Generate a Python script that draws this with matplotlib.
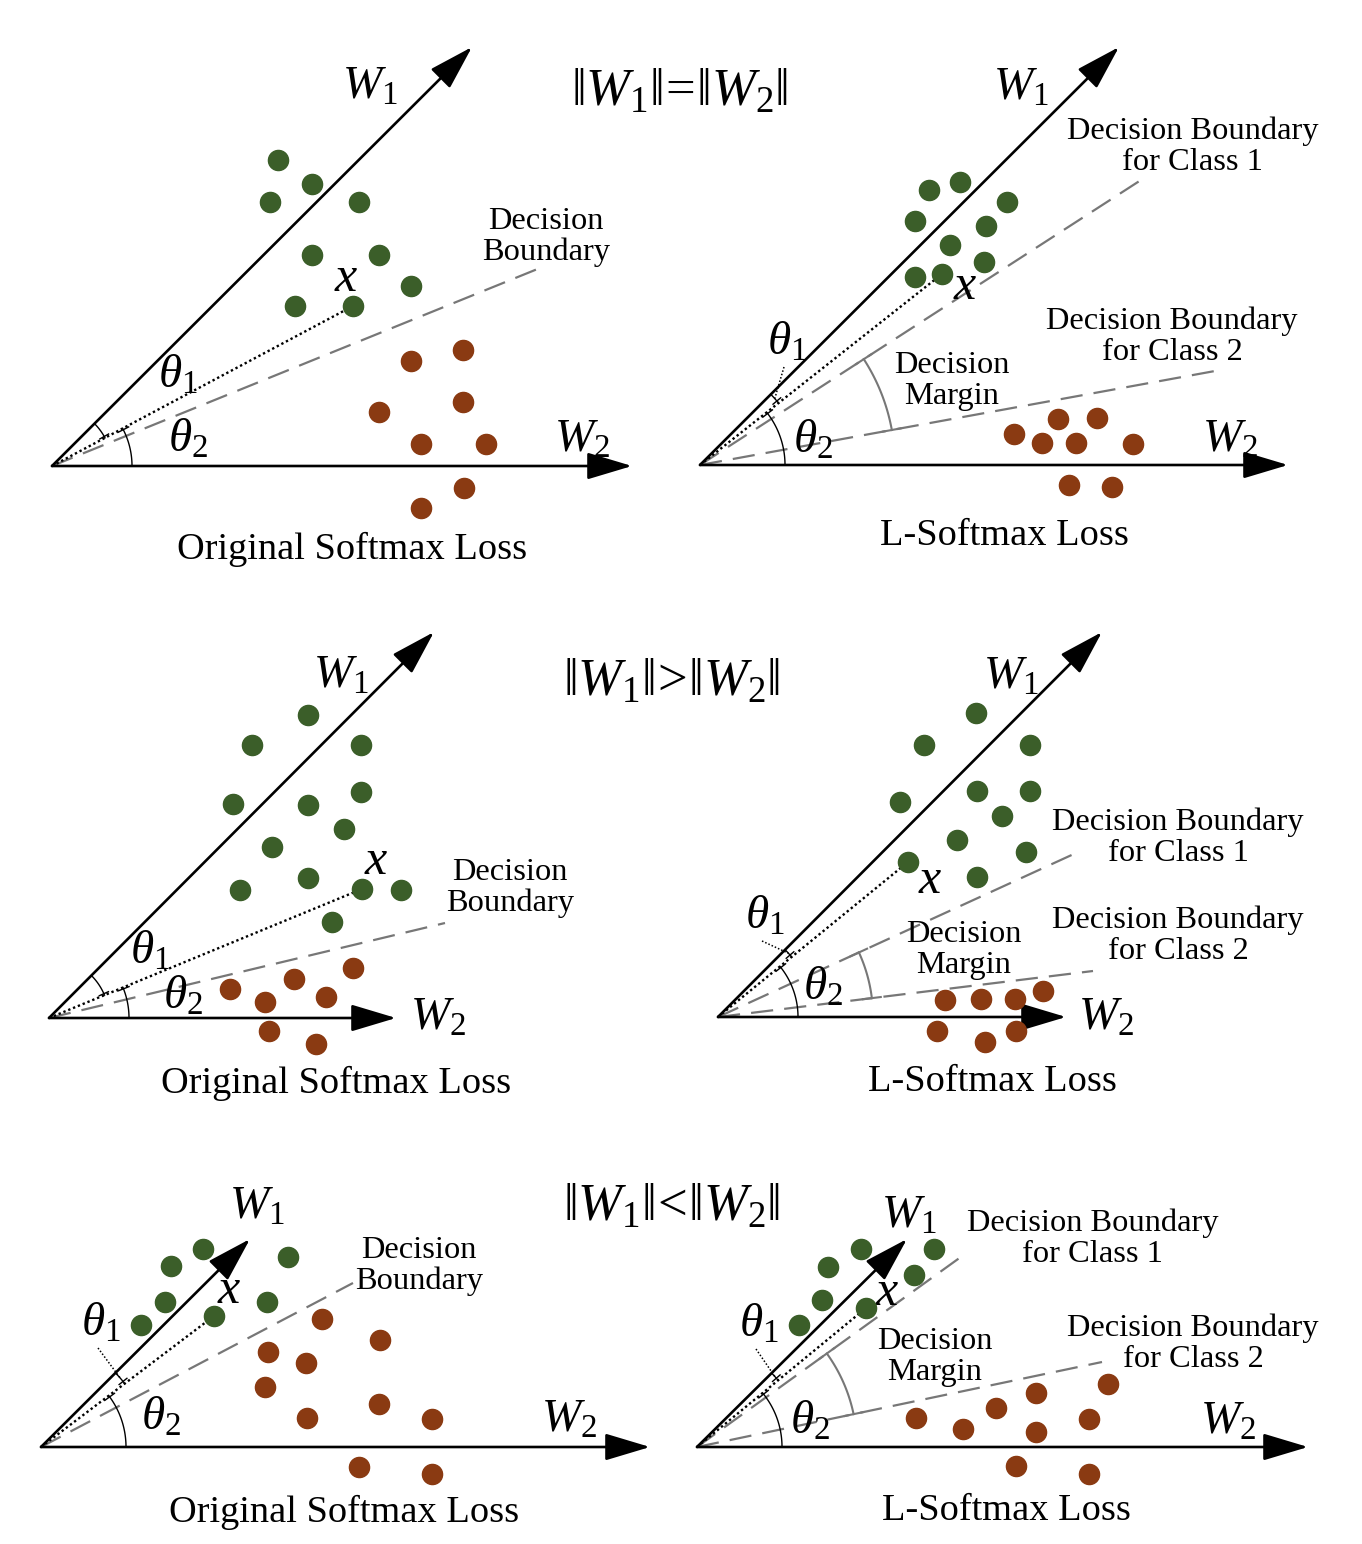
import numpy as np
import matplotlib
matplotlib.use('Agg')
import matplotlib.pyplot as plt

plt.rcParams['font.family'] = ['Liberation Serif', 'DejaVu Serif']
plt.rcParams['mathtext.fontset'] = 'custom'
plt.rcParams['mathtext.rm'] = 'Liberation Serif'
plt.rcParams['mathtext.it'] = 'Liberation Serif:italic'
plt.rcParams['mathtext.bf'] = 'Liberation Serif:bold'

# ---------------- data (pixel space of the diagram) ----------------
# panel order: A (=, original), B (=, L-softmax), C (>, original), D (>, L-softmax), E (<, original), F (<, L-softmax)
origins = [(52, 466), (700, 465), (49, 1018), (718, 1017), (41, 1447), (697, 1447)]
w1_tips = [(472, 47), (1119, 47), (434, 632), (1102, 632), (250, 1239), (907, 1239)]
w2_tips = [(632, 466), (1288, 465), (396, 1018), (1066, 1017), (650, 1447), (1308, 1447)]

class1_x = [
    [278, 312, 270, 359, 312, 379, 411, 295, 353],
    [929, 960, 1007, 915, 986, 950, 984, 915, 942],
    [308, 252, 361, 361, 233, 308, 344, 272, 308, 240, 362, 401, 332],
    [976, 924, 1030, 977, 1030, 1002, 900, 957, 1026, 908, 977],
    [203, 171, 288, 165, 267, 214, 141],
    [861, 934, 828, 914, 822, 866, 799],
]
class1_y = [
    [160, 184, 202, 202, 255, 255, 286, 306, 306],
    [190, 182, 202, 221, 226, 245, 262, 277, 274],
    [715, 745, 745, 792, 804, 805, 829, 847, 878, 890, 889, 890, 922],
    [713, 745, 745, 791, 791, 816, 802, 840, 852, 862, 877],
    [1249, 1266, 1257, 1302, 1302, 1316, 1325],
    [1249, 1249, 1267, 1275, 1300, 1308, 1325],
]
class2_x = [
    [463, 411, 463, 379, 421, 486, 464, 421],
    [1014, 1058, 1097, 1042, 1076, 1133, 1069, 1112],
    [230, 265, 294, 326, 353, 269, 316],
    [945, 981, 1015, 1043, 937, 985, 1016],
    [322, 268, 306, 380, 265, 379, 307, 432, 359, 432],
    [1036, 1108, 996, 916, 963, 1036, 1089, 1016, 1089],
]
class2_y = [
    [350, 361, 402, 412, 444, 444, 488, 508],
    [434, 419, 418, 443, 443, 444, 485, 487],
    [989, 1002, 979, 997, 968, 1031, 1044],
    [1000, 999, 999, 991, 1031, 1042, 1031],
    [1319, 1352, 1363, 1340, 1387, 1404, 1418, 1419, 1467, 1474],
    [1393, 1384, 1408, 1418, 1429, 1432, 1419, 1466, 1474],
]
# index of the sample point "x" inside class 1 list
x_index = [8, 8, 10, 9, 5, 5]

# decision boundary end points (None if absent)
boundary_ends = [(540, 268), None, (445, 923), None, (353, 1283), None]
boundary1_ends = [None, (1141, 180), None, (1076, 853), None, (965, 1254)]
boundary2_ends = [None, (1215, 371), None, (1093, 971), None, (1102, 1362)]

theta1_r = [60, 100, 60, 95, 105, 105]
theta2_r = [80, 85, 80, 80, 85, 85]
margin_r = [None, 195, None, 155, None, 160]

# label positions
w1_label = [(370, 87), (1021, 88), (341, 676), (1011, 677), (257, 1207), (909, 1216)]
w2_label = [(582, 440), (1230, 440), (438, 1018), (1106, 1018), (569, 1420), (1228, 1422)]
x_label = [(346, 279), (965, 287), (376, 862), (930, 881), (229, 1291), (887, 1293)]
t1_label = [(178, 376), (787, 343), (150, 952), (765, 917), (101, 1324), (759, 1325)]
t2_label = [(188, 440), (813, 441), (183, 997), (823, 988), (161, 1418), (810, 1422)]
t1_leader = [False, True, False, True, True, True]
db_label = [(546, 237), None, (510, 888), None, (419, 1266), None]
db1_label = [None, (1193, 147), None, (1178, 838), None, (1093, 1239)]
db2_label = [None, (1172, 337), None, (1178, 936), None, (1193, 1344)]
dm_label = [None, (952, 381), None, (964, 950), None, (935, 1357)]
captions = ['Original Softmax Loss', 'L-Softmax Loss'] * 3
caption_pos = [(352, 549), (1004, 536), (336, 1083), (992, 1082), (344, 1512), (1006, 1511)]

titles = [r'$\Vert W_{\mathit{1}}\Vert\!=\!\Vert W_{2}\Vert$',
          r'$\Vert W_{\mathit{1}}\Vert\!>\!\Vert W_{2}\Vert$',
          r'$\Vert W_{\mathit{1}}\Vert\!<\!\Vert W_{2}\Vert$']
title_pos = [(680, 93), (672, 683), (672, 1208)]

GREEN = '#3b5e29'
BROWN = '#8a3a12'
GRAY = '#777777'

# ---------------- drawing ----------------
fig = plt.figure(figsize=(13.62, 15.44), dpi=100)
ax = fig.add_axes([0, 0, 1, 1])
ax.set_xlim(0, 1362)
ax.set_ylim(1544, 0)
ax.axis('off')

SYM = 34
CAP = 27.6
SMALL = 23.4
LS = 1.07


def ang(o, p):
    return np.degrees(np.arctan2(o[1] - p[1], p[0] - o[0]))


def arc(o, r, a0, a1, **kw):
    t = np.radians(np.linspace(a0, a1, 60))
    ax.plot(o[0] + r * np.cos(t), o[1] - r * np.sin(t), **kw)


def radial_tick(o, r, a, half, **kw):
    t = np.radians(a)
    ax.plot([o[0] + (r - half) * np.cos(t), o[0] + (r + half) * np.cos(t)],
            [o[1] - (r - half) * np.sin(t), o[1] - (r + half) * np.sin(t)], **kw)


for i in range(6):
    o = origins[i]
    # axes arrows
    for tip in (w1_tips[i], w2_tips[i]):
        ax.annotate('', xy=tip, xytext=o,
                    arrowprops=dict(arrowstyle='-|>,head_length=1.4,head_width=0.42',
                                    color='black', lw=1.9, mutation_scale=20,
                                    shrinkA=0, shrinkB=0), zorder=3)
    # boundaries
    for ends in (boundary_ends[i], boundary1_ends[i], boundary2_ends[i]):
        if ends is not None:
            ax.plot([o[0], ends[0]], [o[1], ends[1]], color=GRAY, lw=1.6,
                    dashes=(10, 5), zorder=2)
    # sample x and dotted line
    xp = (class1_x[i][x_index[i]], class1_y[i][x_index[i]])
    ax.plot([o[0], xp[0]], [o[1], xp[1]], color='black', lw=1.7,
            linestyle=(0, (1, 1.2)), zorder=2)
    # points
    ax.plot(class1_x[i], class1_y[i], 'o', color=GREEN, ms=14.5, mec=GREEN, zorder=4)
    ax.plot(class2_x[i], class2_y[i], 'o', color=BROWN, ms=14.5, mec=BROWN, zorder=4)

    a_w1 = ang(o, w1_tips[i])
    a_x = ang(o, xp)
    # theta arcs
    arc(o, theta1_r[i], a_x, a_w1, color='black', lw=1.0, zorder=2)
    radial_tick(o, theta1_r[i], a_x + 1.5, 5, color='black', lw=1.0)
    arc(o, theta2_r[i], 0, a_x, color='black', lw=1.0, zorder=2)
    radial_tick(o, theta2_r[i], a_x - 1.0, 6, color='black', lw=1.0)
    if t1_leader[i]:
        am = np.radians((a_x + a_w1) / 2)
        p_end = (o[0] + theta1_r[i] * np.cos(am), o[1] - theta1_r[i] * np.sin(am))
        lp = t1_label[i]
        ax.plot([lp[0] - 3, p_end[0]], [lp[1] + 24, p_end[1]], color='black', lw=1.1,
                linestyle=(0, (1, 1.3)))
    # decision margin
    if margin_r[i] is not None:
        a1 = ang(o, boundary1_ends[i])
        a2 = ang(o, boundary2_ends[i])
        arc(o, margin_r[i], a2, a1, color=GRAY, lw=1.5, zorder=2)
        radial_tick(o, margin_r[i], a1, 9, color=GRAY, lw=1.5)
        radial_tick(o, margin_r[i], a2, 9, color=GRAY, lw=1.5)

    # text
    ax.text(*w1_label[i], r'$W_{\mathit{1}}$', fontsize=SYM, ha='center', va='center')
    ax.text(*w2_label[i], r'$W_{2}$', fontsize=SYM, ha='center', va='center')
    ax.text(*x_label[i], r'$x$', fontsize=SYM + 2, ha='center', va='center')
    ax.text(*t1_label[i], r'$\theta_{\mathit{1}}$', fontsize=SYM, ha='center', va='center')
    ax.text(*t2_label[i], r'$\theta_{2}$', fontsize=SYM, ha='center', va='center')
    if db_label[i] is not None:
        ax.text(*db_label[i], 'Decision\nBoundary', fontsize=SMALL, ha='center',
                va='center', linespacing=LS)
    if db1_label[i] is not None:
        ax.text(*db1_label[i], 'Decision Boundary\nfor Class 1', fontsize=SMALL,
                ha='center', va='center', linespacing=LS)
    if db2_label[i] is not None:
        ax.text(*db2_label[i], 'Decision Boundary\nfor Class 2', fontsize=SMALL,
                ha='center', va='center', linespacing=LS)
    if dm_label[i] is not None:
        ax.text(*dm_label[i], 'Decision\nMargin', fontsize=SMALL, ha='center',
                va='center', linespacing=LS)
    ax.text(*caption_pos[i], captions[i], fontsize=CAP, ha='center', va='center')

for t, p in zip(titles, title_pos):
    ax.text(*p, t, fontsize=38, ha='center', va='center')

fig.savefig('out.png', dpi=100, facecolor='white')
